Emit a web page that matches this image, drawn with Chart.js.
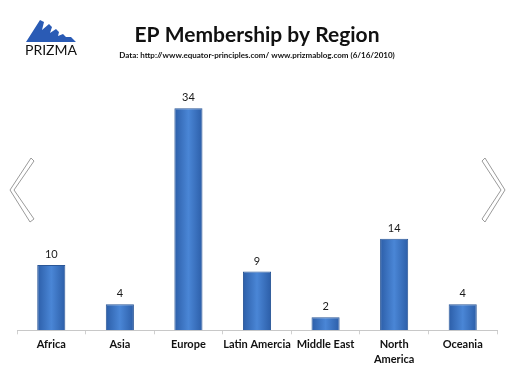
<!DOCTYPE html>
<html><head><meta charset="utf-8">
<script src="https://cdn.jsdelivr.net/npm/chart.js@4/dist/chart.umd.min.js"></script>
<style>html,body{margin:0;padding:0;background:#fff}#wrap{width:513px;height:385px}</style>
</head><body><div id="wrap"><canvas id="c" width="513" height="385"></canvas></div>
<script>
const categories = ['Africa', 'Asia', 'Europe', 'Latin Amercia', 'Middle East', ['North', 'America'], 'Oceania'];
const members = [10, 4, 34, 9, 2, 14, 4];
const titleText = 'EP Membership by Region';
const subtitleText = 'Data: http://www.equator-principles.com/ www.prizmablog.com (6/16/2010)';

const deco = {
  id: 'deco',
  afterDatasetsDraw(chart) {
    const ctx = chart.ctx;
    const meta = chart.getDatasetMeta(0);
    ctx.save();
    ctx.fillStyle = '#1a1a1a';
    ctx.font = '11px Lato, "Liberation Sans", sans-serif';
    ctx.textAlign = 'center';
    ctx.textBaseline = 'bottom';
    meta.data.forEach((b, i) => {
      ctx.fillText(String(members[i]), b.x, b.y - 5);
    });
    ctx.restore();
  },
  beforeDraw(chart) {
    const ctx = chart.ctx;
    ctx.save();
    ctx.fillStyle = '#2a5bb5';
    ctx.beginPath();
    ctx.moveTo(26, 42);
    ctx.lineTo(40, 20); ctx.lineTo(44, 22); ctx.lineTo(42, 30);
    ctx.lineTo(49, 24); ctx.lineTo(52, 27); ctx.lineTo(50, 33);
    ctx.lineTo(56, 29); ctx.lineTo(59, 32); ctx.lineTo(58, 36);
    ctx.lineTo(63, 34); ctx.lineTo(66, 37);
    ctx.lineTo(71, 37); ctx.lineTo(76, 42);
    ctx.closePath();
    ctx.fill();
    ctx.fillStyle = '#111';
    ctx.font = '14px Lato, "Liberation Sans", sans-serif';
    ctx.textAlign = 'center';
    ctx.textBaseline = 'alphabetic';
    ctx.fillText('PRIZMA', 51, 55);
    function chev(pts) {
      ctx.beginPath();
      ctx.moveTo(pts[0][0], pts[0][1]);
      for (let i = 1; i < pts.length; i++) ctx.lineTo(pts[i][0], pts[i][1]);
      ctx.closePath();
      ctx.fillStyle = '#ffffff';
      ctx.fill();
      ctx.strokeStyle = '#9a9a9a';
      ctx.lineWidth = 1;
      ctx.stroke();
    }
    chev([[31,158],[34,161],[14,190],[34,219],[30,222],[10,190]]);
    chev([[485,158],[482,161],[501,190],[482,219],[485,222],[505,190]]);
    ctx.restore();
  }
};

new Chart(document.getElementById('c'), {
  type: 'bar',
  data: {
    labels: categories,
    datasets: [{
      data: members,
      backgroundColor(ctx) {
        const chart = ctx.chart;
        const sx = chart.scales && chart.scales.x;
        if (!sx || !chart.chartArea || ctx.dataIndex === undefined) return '#3a72c0';
        const cx = sx.getPixelForValue(ctx.dataIndex);
        if (!Number.isFinite(cx)) return '#3a72c0';
        const w = 14;
        const g = chart.ctx.createLinearGradient(cx - w, 0, cx + w, 0);
        g.addColorStop(0, '#2c5ea8');
        g.addColorStop(0.5, '#4a86d6');
        g.addColorStop(1, '#2c5ea8');
        return g;
      },
      borderColor: '#2b5797',
      borderWidth: 1,
      categoryPercentage: 1,
      barPercentage: 0.41
    }]
  },
  options: {
    responsive: false,
    animation: false,
    layout: { padding: { left: 17, right: 16, top: 0, bottom: 15 } },
    plugins: {
      legend: { display: false },
      tooltip: { enabled: false },
      title: {
        display: true, text: titleText, color: '#111',
        font: { family: 'Lato, "Open Sans", sans-serif', size: 21, weight: 'bold' },
        padding: { top: 23, bottom: 2 }
      },
      subtitle: {
        display: true, text: subtitleText, color: '#111',
        font: { family: 'Lato, "Open Sans", sans-serif', size: 8, weight: 'bold' },
        padding: { top: 0, bottom: 4 }
      }
    },
    scales: {
      x: {
        grid: { display: true, offset: true, drawOnChartArea: false, drawTicks: true, tickLength: 4, color: '#d0d0d0' },
        border: { display: true, color: '#c8c8c8' },
        ticks: { color: '#111', font: { family: 'Lato, "Open Sans", sans-serif', size: 11, weight: 'bold', lineHeight: 1.35 }, maxRotation: 0, autoSkip: false, padding: 3 }
      },
      y: { display: false, min: 0, max: 40.8 }
    }
  },
  plugins: [deco]
});
</script></body></html>
